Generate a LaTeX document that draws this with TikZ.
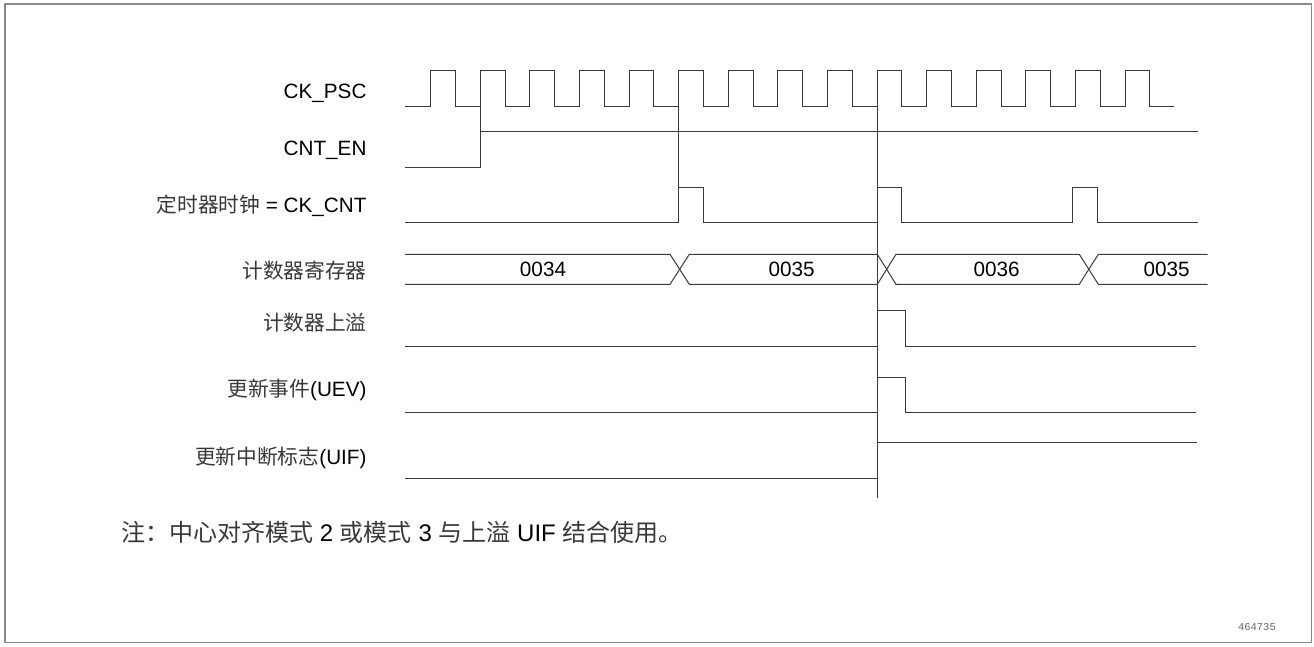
\documentclass[tikz,border=0pt]{standalone}
\usepackage{fontspec}
\setmainfont{Liberation Sans}
\newfontfamily\cjk{Noto Sans CJK SC}
\newfontfamily\smallmono{Liberation Mono}
\definecolor{wave}{HTML}{3A3A3A}
\definecolor{cjkgray}{HTML}{383838}
\definecolor{framegray}{HTML}{8A8A8A}
\newcommand{\zh}[1]{{\cjk\color{cjkgray}#1}}
\begin{document}
\begin{tikzpicture}[x=1pt,y=-1pt,
  sig/.style={draw=wave,line width=1pt,line join=miter},
  guide/.style={draw=wave,line width=1pt},
  lbl/.style={anchor=base east,inner sep=0pt,font=\fontsize{20.7}{24}\selectfont},
  val/.style={anchor=base,inner sep=0pt,font=\fontsize{20.7}{24}\selectfont},
  note/.style={anchor=base west,inner sep=0pt,font=\fontsize{24}{28}\selectfont}]
\useasboundingbox (0,0) rectangle (1314,646);
\draw[framegray,line width=1.6pt] (5,4) rectangle (1311.5,642.5);

% labels
\node[lbl] (lpsc) at (366.7,98.1) {CK\_PSC};
\node[lbl] (len) at (366.7,155.7) {CNT\_EN};
\node[lbl] (lcnt) at (366.7,212.4) {\zh{定时器时钟} = CK\_CNT};
\node[lbl] (lreg) at (366.7,278.4) {\zh{计数器寄存器}};
\node[lbl] (lovf) at (366.7,330.1) {\zh{计数器上溢}};
\node[lbl] (luev) at (366.7,396.7) {\zh{更新事件}(UEV)};
\node[lbl] (luif) at (366.7,464.1) {\zh{更新中断标志}(UIF)};

% CK_PSC
\draw[sig] (405,106.7) foreach \k in {0,...,14} {
  -- ({430.7+49.6*\k},106.7) -- ++(0,-36.7) -- ++(24.8,0) -- ++(0,36.7) } -- (1174,106.7);

% CNT_EN
\draw[sig] (405,167.7) -- (480.3,167.7) -- (480.3,131.7) -- (1198,131.7);
\draw[guide] (480.3,70) -- (480.3,131.7);

% CK_CNT
\draw[sig] (405,222.3) -- (678.7,222.3) -- (678.7,187.3) -- (703.2,187.3) -- (703.2,222.3)
  -- (877.3,222.3) -- (877.3,187.3) -- (901.7,187.3) -- (901.7,222.3)
  -- (1072.8,222.3) -- (1072.8,187.3) -- (1097.3,187.3) -- (1097.3,222.3) -- (1198,222.3);
\draw[guide] (678.7,70) -- (678.7,222.3);
\coordinate (vtop) at (877.3,70);
\coordinate (vbot) at (877.3,498.3);
\draw[guide] (vtop) -- (vbot);

% counter register bus
\draw[sig] (405,254.3) -- (670,254.3) -- (689.3,284.3) -- (877.3,284.3) -- (896,254.3)
  -- (1079.3,254.3) -- (1098.3,284.3) -- (1207.7,284.3);
\draw[sig] (405,284.3) -- (670,284.3) -- (689.3,254.3) -- (877.3,254.3) -- (896,284.3)
  -- (1079.3,284.3) -- (1098.3,254.3) -- (1207.7,254.3);
\node[val] (v34) at (543,276.7) {0034};
\node[val] (v35) at (791.7,276.7) {0035};
\node[val] (v36) at (996.7,276.7) {0036};
\node[val] (v35b) at (1166.7,276.7) {0035};

% counter overflow
\draw[sig] (405,346.7) -- (877.3,346.7) -- (877.3,310) -- (905.7,310) -- (905.7,346.7) -- (1196,346.7);
% UEV
\draw[sig] (405,412.7) -- (877.3,412.7) -- (877.3,377.3) -- (905.7,377.3) -- (905.7,412.7) -- (1196,412.7);
% UIF
\draw[sig] (405,478.3) -- (877.3,478.3) -- (877.3,442.3) -- (1197,442.3);

% note
\node[note] (nt) at (121,541.5) {\zh{注：中心对齐模式} 2 \zh{或模式} 3 \zh{与上溢} UIF \zh{结合使用。}};

\node[anchor=base east,inner sep=0pt,font=\smallmono\fontsize{10.5}{12}\selectfont,text=black!60] (id) at (1276,630.5) {464735};
\end{tikzpicture}
\end{document}
